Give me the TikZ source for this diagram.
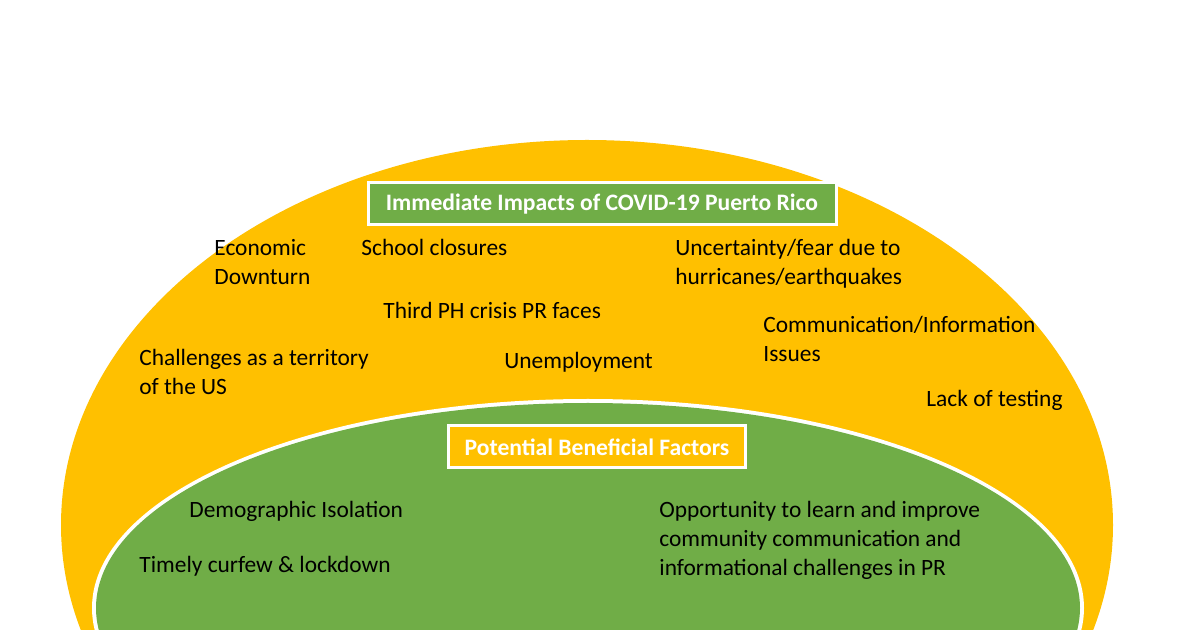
\documentclass[tikz,border=0pt]{standalone}
\usepackage{fontspec}
\setmainfont{Carlito}
\definecolor{impactyellow}{HTML}{FFC000}
\definecolor{factorgreen}{HTML}{70AD47}
\begin{document}
\begin{tikzpicture}[
  x=0.5pt,y=-0.5pt,
  font=\fontsize{11.7}{14.5}\selectfont,
  every node/.style={align=left},
  item/.style={anchor=north west,inner sep=0pt},
  title/.style={draw=white,line width=1.5pt,text=white,font=\fontsize{11.8}{13}\selectfont\bfseries,
    minimum height=21pt,inner xsep=8pt}]

  % Frame and the two half ellipses
  \useasboundingbox (0,0) rectangle (1200,630);
  \clip (0,0) rectangle (1200,630);
  \fill[impactyellow] (587,525) ellipse [x radius=526,y radius=385];
  \fill[white] (588,608) ellipse [x radius=496,y radius=209];
  \fill[factorgreen] (588,608) ellipse [x radius=492,y radius=205];

  % Headings
  \node[title,fill=factorgreen,minimum width=234pt] (impacts) at (602,204) {Immediate Impacts of COVID-19 Puerto Rico};
  \node[title,fill=impactyellow,minimum width=147pt] (factors) at (597,447) {Potential Beneficial Factors};

  % Impacts
  \node[item] (econ) at (214,239) {Economic\\Downturn};
  \node[item] (school) at (361,239) {School closures};
  \node[item] (fear) at (675,239) {Uncertainty/fear due to\\hurricanes/earthquakes};
  \node[item] (third) at (383,302) {Third PH crisis PR faces};
  \node[item] (comm) at (763,316) {Communication/Information\\Issues};
  \node[item] (territory) at (139,349) {Challenges as a territory\\of the US};
  \node[item] (unemp) at (504,352) {Unemployment};
  \node[item] (testing) at (926,390) {Lack of testing};

  % Beneficial factors
  \node[item] (isolation) at (189,501) {Demographic Isolation};
  \node[item] (curfew) at (139,556) {Timely curfew \& lockdown};
  \node[item] (learn) at (659,501) {Opportunity to learn and improve\\community communication and\\informational challenges in PR};

\end{tikzpicture}
\end{document}
